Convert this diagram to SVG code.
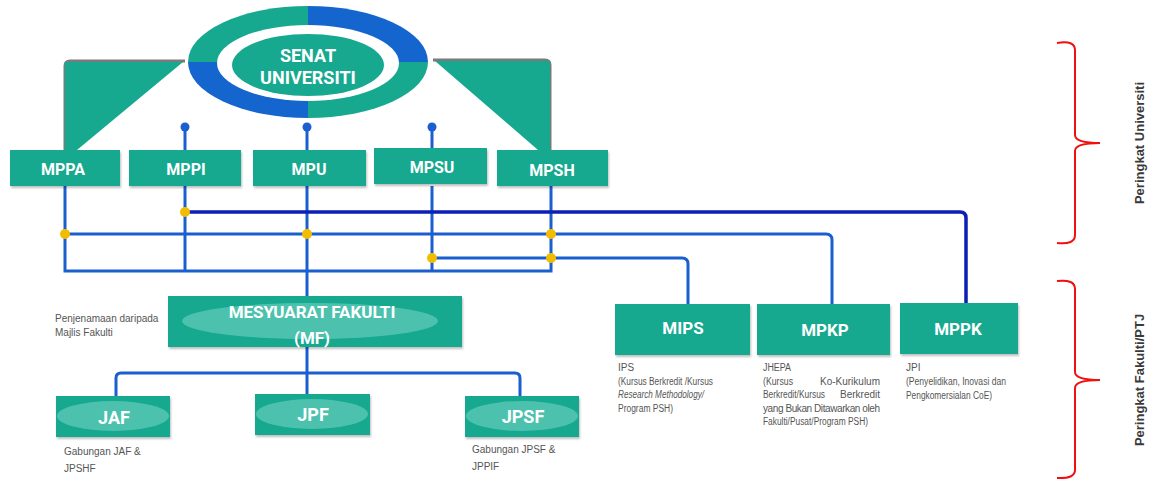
<svg xmlns="http://www.w3.org/2000/svg" width="1158" height="481" viewBox="0 0 1158 481">
<defs>
<filter id="sh" x="-10%" y="-10%" width="120%" height="130%"><feDropShadow dx="1" dy="2" stdDeviation="1.2" flood-color="#000" flood-opacity="0.25"/></filter>
</defs>
<style>
.box{fill:#17a98f;filter:url(#sh)}
.glow{fill:#4cc2ae}
.t{font-family:Roboto,"Liberation Sans",sans-serif;font-weight:700;fill:#fff;text-anchor:middle}
.c{font-family:"Liberation Sans",Arial,sans-serif;font-size:10px;fill:#555}
.ln{fill:none;stroke:#1a5fd0;stroke-width:3}
.dk{fill:none;stroke:#0b1fb5;stroke-width:3.5}
.dot{fill:#f2bd00}
.pin{fill:#1a5fd0}
.br{fill:none;stroke:#f01010;stroke-width:2}
.lab{font-family:"Liberation Sans",Arial,sans-serif;font-weight:700;font-size:13px;fill:#3a3a3a;text-anchor:middle}
</style>
<rect width="1158" height="481" fill="#fff"/>

<!-- triangles -->
<g id="tri-left">
<path d="M185 61 L70 61 Q65 61 65 66 L65 150" fill="none" stroke="#7a7a7a" stroke-width="3"/>
<polygon points="65,62 183,62 77,150 65,150" fill="#17a98f"/>
</g>
<g id="tri-right">
<path d="M433 60 L545 60 Q550 60 550 65 L550 150" fill="none" stroke="#7a7a7a" stroke-width="3"/>
<polygon points="435,61 550,61 550,150 538,150" fill="#17a98f"/>
</g>

<!-- senat -->
<g id="senat">
<path d="M188 62 A120 56 0 0 1 308 6 L308 62 Z" fill="#17a98f"/>
<path d="M308 6 A120 56 0 0 1 428 62 L308 62 Z" fill="#1565cf"/>
<path d="M428 62 A120 56 0 0 1 308 118 L308 62 Z" fill="#17a98f"/>
<path d="M308 118 A120 56 0 0 1 188 62 L308 62 Z" fill="#1565cf"/>
<ellipse cx="308" cy="63" rx="91" ry="38" fill="#fff"/>
<ellipse cx="308" cy="65" rx="76" ry="31" fill="#17a98f"/>
<text class="t" x="308" y="62" font-size="18">SENAT</text>
<text class="t" x="308" y="84" font-size="18">UNIVERSITI</text>
</g>

<!-- connectors -->
<g id="connectors">
<line class="ln" x1="185" y1="127" x2="185" y2="150"/>
<line class="ln" x1="307" y1="127" x2="307" y2="150"/>
<line class="ln" x1="432" y1="127" x2="432" y2="150"/>
<circle class="pin" cx="185" cy="127" r="4.5"/>
<circle class="pin" cx="307" cy="127" r="4.5"/>
<circle class="pin" cx="432" cy="127" r="4.5"/>
<path class="ln" d="M65 186 V271 H551 V186"/>
<line class="ln" x1="185" y1="186" x2="185" y2="271"/>
<line class="ln" x1="307" y1="186" x2="307" y2="296"/>
<line class="ln" x1="432" y1="186" x2="432" y2="271"/>
<path class="ln" d="M65 234 H826 Q832 234 832 240 V304"/>
<path class="ln" d="M432 258 H682 Q688 258 688 264 V304"/>
<path class="dk" d="M185 212 H960 Q966 212 966 218 V303"/>
<circle class="dot" cx="185" cy="212" r="5"/>
<circle class="dot" cx="65" cy="234" r="5"/>
<circle class="dot" cx="307" cy="234" r="5"/>
<circle class="dot" cx="551" cy="234" r="5"/>
<circle class="dot" cx="432" cy="258" r="5"/>
<circle class="dot" cx="551" cy="258" r="5"/>
<line class="ln" x1="307" y1="347" x2="307" y2="395"/>
<path class="ln" d="M116 397 V378 Q116 373 121 373 H515 Q520 373 520 378 V397"/>
</g>

<!-- top row -->
<g id="mppa"><rect class="box" x="10" y="150" width="110" height="36"/><text class="t" x="63" y="175" font-size="16">MPPA</text></g>
<g id="mppi"><rect class="box" x="129" y="150" width="112" height="36"/><text class="t" x="186" y="175" font-size="16">MPPI</text></g>
<g id="mpu"><rect class="box" x="253" y="150" width="113" height="36"/><text class="t" x="309" y="175" font-size="16">MPU</text></g>
<g id="mpsu"><rect class="box" x="374" y="148" width="113" height="36"/><text class="t" x="432" y="173" font-size="16">MPSU</text></g>
<g id="mpsh"><rect class="box" x="497" y="150" width="111" height="36"/><text class="t" x="552" y="176" font-size="16">MPSH</text></g>

<!-- MF -->
<g id="mf">
<rect class="box" x="168" y="296" width="294" height="51"/>
<ellipse class="glow" cx="310" cy="321" rx="128" ry="18"/>
<text class="t" x="312" y="318" font-size="17">MESYUARAT FAKULTI</text>
<text class="t" x="312" y="344" font-size="17">(MF)</text>
</g>
<text class="c" x="55" y="322">Penjenamaan daripada</text>
<text class="c" x="55" y="336">Majlis Fakulti</text>

<g id="jaf"><rect class="box" x="56" y="396" width="114" height="41"/><ellipse class="glow" cx="113" cy="416" rx="56" ry="15"/><text class="t" x="114" y="424" font-size="18">JAF</text></g>
<g id="jpf"><rect class="box" x="255" y="394" width="115" height="41"/><ellipse class="glow" cx="312" cy="414" rx="56" ry="15"/><text class="t" x="313" y="421" font-size="18">JPF</text></g>
<g id="jpsf"><rect class="box" x="465" y="396" width="114" height="41"/><ellipse class="glow" cx="522" cy="416" rx="56" ry="15"/><text class="t" x="523" y="423" font-size="18">JPSF</text></g>

<text class="c" x="64" y="455">Gabungan JAF &amp;</text>
<text class="c" x="64" y="472">JPSHF</text>
<text class="c" x="472" y="453">Gabungan JPSF &amp;</text>
<text class="c" x="472" y="470">JPPIF</text>

<!-- second row right -->
<g id="mips"><rect class="box" x="615" y="304" width="135" height="51"/><text class="t" x="683" y="334" font-size="17">MIPS</text></g>
<g id="mpkp"><rect class="box" x="757" y="304" width="133" height="51"/><text class="t" x="825" y="336" font-size="17">MPKP</text></g>
<g id="mppk"><rect class="box" x="900" y="303" width="118" height="51"/><text class="t" x="958" y="335" font-size="17">MPPK</text></g>

<text class="c" x="618" y="371">IPS</text>
<text class="c" x="618" y="385" textLength="95" lengthAdjust="spacingAndGlyphs">(Kursus Berkredit /Kursus</text>
<text class="c" x="618" y="398" font-style="italic" textLength="86" lengthAdjust="spacingAndGlyphs">Research Methodology/</text>
<text class="c" x="618" y="412" textLength="55" lengthAdjust="spacingAndGlyphs">Program PSH)</text>

<text class="c" x="763" y="371" textLength="28" lengthAdjust="spacingAndGlyphs">JHEPA</text>
<text class="c" x="763" y="385" textLength="30" lengthAdjust="spacingAndGlyphs">(Kursus</text>
<text class="c" x="880" y="385" text-anchor="end">Ko-Kurikulum</text>
<text class="c" x="763" y="398" textLength="62" lengthAdjust="spacingAndGlyphs">Berkredit/Kursus</text>
<text class="c" x="880" y="398" text-anchor="end">Berkredit</text>
<text class="c" x="763" y="412" textLength="117" lengthAdjust="spacing">yang Bukan Ditawarkan oleh</text>
<text class="c" x="763" y="425" textLength="105" lengthAdjust="spacingAndGlyphs">Fakulti/Pusat/Program PSH)</text>

<text class="c" x="906" y="371">JPI</text>
<text class="c" x="906" y="385" textLength="100" lengthAdjust="spacingAndGlyphs">(Penyelidikan, Inovasi dan</text>
<text class="c" x="906" y="399" textLength="86" lengthAdjust="spacingAndGlyphs">Pengkomersialan CoE)</text>

<!-- braces -->
<g id="brace-univ">
<path class="br" d="M1057 43 Q1075 40 1075 50 V135 Q1075 143 1100 143 Q1075 143 1075 151 V235 Q1075 245 1057 243"/>
<text class="lab" transform="translate(1144 143) rotate(-90)">Peringkat Universiti</text>
</g>
<g id="brace-fak">
<path class="br" d="M1057 281 Q1075 279 1075 289 V372 Q1075 380 1100 380 Q1075 380 1075 388 V470 Q1075 479 1057 478"/>
<text class="lab" transform="translate(1144 380) rotate(-90)">Peringkat Fakulti/PTJ</text>
</g>
</svg>
